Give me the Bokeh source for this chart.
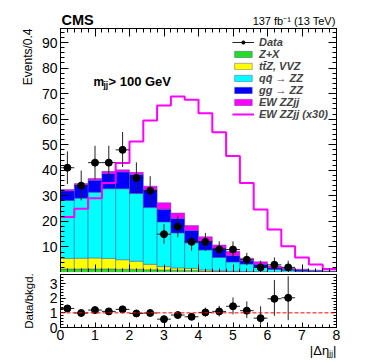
import numpy as np
from bokeh.plotting import figure
from bokeh.models import (ColumnDataSource, Range1d, LinearAxis, FixedTicker,
                          Label, Legend, LegendItem, Span, Title)
from bokeh.layouts import column
from bokeh.embed import file_html
from bokeh.resources import INLINE

FONT = "Liberation Sans"

# ---------------- data ----------------
bin_edges = [0.0, 0.4, 0.8, 1.2, 1.6, 2.0, 2.4, 2.8, 3.2, 3.6, 4.0,
             4.4, 4.8, 5.2, 5.6, 6.0, 6.4, 6.8, 7.2, 7.6, 8.0]
bin_centers = [0.2, 0.6, 1.0, 1.4, 1.8, 2.2, 2.6, 3.0, 3.4, 3.8,
               4.2, 4.6, 5.0, 5.4, 5.8, 6.2, 6.6, 7.0, 7.4, 7.8]
bin_width = 0.4

zx_bkg = [1.4, 1.4, 1.4, 1.4, 1.3, 1.3, 1.1, 1.0, 0.9, 0.8,
          0.5, 0.4, 0.3, 0.2, 0.15, 0.1, 0.1, 0.05, 0.05, 0.03]
ttz_vvz = [4.1, 4.2, 4.3, 4.1, 3.7, 3.1, 2.1, 1.3, 0.9, 0.8,
           0.5, 0.3, 0.2, 0.2, 0.15, 0.1, 0.05, 0.05, 0.02, 0.02]
qq_zz = [22.7, 23.5, 25.7, 27.3, 27.8, 26.5, 22.2, 17.5, 13.7, 10.0,
         7.8, 5.2, 3.6, 2.9, 1.7, 1.0, 0.65, 0.4, 0.3, 0.2]
gg_zz = [3.7, 5.0, 4.7, 5.9, 6.5, 7.4, 7.0, 5.0, 5.6, 4.8,
         3.5, 3.7, 2.5, 1.3, 1.2, 0.6, 0.5, 0.5, 0.35, 0.2]
ew_zzjj = [0.6, 0.7, 0.7, 0.9, 0.9, 0.9, 1.4, 2.5, 2.2, 2.0,
           1.7, 1.2, 1.7, 1.0, 1.0, 0.7, 0.4, 0.3, 0.2, 0.15]
ew_zzjj_x30 = [21.7, 25.0, 29.1, 35.0, 42.9, 51.3, 59.5, 65.4, 68.9, 67.6,
               62.3, 54.9, 45.6, 35.0, 24.7, 16.8, 10.3, 5.9, 3.1, 1.4]

data_x = [0.2, 0.6, 1.0, 1.4, 1.8, 2.2, 2.6, 3.0, 3.4, 3.8,
          4.2, 4.6, 5.0, 5.4, 5.8, 6.2, 6.6]
data_y = [41, 34, 43, 43, 48, 37, 32, 15, 18, 12, 12, 9, 9, 5, 2, 3, 2]
data_lo = [34.6, 28.2, 36.5, 36.5, 41.3, 31.0, 26.4, 11.3, 13.8, 8.5,
           8.5, 6.0, 6.0, 2.8, 0.7, 1.4, 0.7]
data_hi = [47.4, 39.9, 49.6, 49.6, 55.0, 43.1, 37.7, 19.0, 22.3, 15.5,
           15.5, 12.2, 12.2, 7.7, 4.6, 5.9, 4.6]

ratio_y = [1.30, 0.99, 1.19, 1.10, 1.24, 0.96, 0.99, 0.57, 0.85, 0.73,
           1.03, 1.10, 1.45, 1.15, 0.64, 1.96, 2.03]
ratio_lo = [1.10, 0.82, 1.00, 0.93, 1.06, 0.80, 0.82, 0.42, 0.65, 0.52,
            0.73, 0.75, 0.90, 0.65, 0.22, 0.80, 0.50]
ratio_hi = [1.50, 1.18, 1.38, 1.28, 1.44, 1.13, 1.18, 0.74, 1.05, 0.96,
            1.36, 1.48, 2.05, 1.78, 1.45, 3.25, 3.50]
ratio_ref = 1.0

legend_labels = ["Data", "Z+X", "tt\u0304Z, VVZ", "qq\u0304 \u2192 ZZ",
                 "gg \u2192 ZZ", "EW ZZjj", "EW ZZjj (x30)"]
stack_colors = ["#22dd22", "#ffff00", "#00ffff", "#0000ff", "#ff00ff"]

x_major = [0, 1, 2, 3, 4, 5, 6, 7, 8]
y_major_main = [10, 20, 30, 40, 50, 60, 70, 80, 90]
y_major_ratio = [0, 1, 2, 3]

# ---------------- geometry ----------------
FW, FH1, FH2 = 276, 244, 53
BL, BR = 60, 38
HEAD = 28


def style_axis(ax, ticks, minor, labels, tin, tmin):
    ax.ticker = FixedTicker(ticks=ticks, minor_ticks=minor)
    ax.major_tick_in = tin
    ax.major_tick_out = 0
    ax.minor_tick_in = tmin
    ax.minor_tick_out = 0
    ax.axis_line_color = "black"
    ax.major_tick_line_color = "black"
    ax.minor_tick_line_color = "black"
    ax.major_label_text_font = FONT
    if labels:
        ax.major_label_text_font_size = "14px"
        ax.major_label_standoff = 3
        ax.major_label_text_color = "black"
    else:
        ax.major_label_text_font_size = "0px"
        ax.major_label_standoff = 0
        ax.major_label_text_color = None


def add_label(p, x, y, text, size, style="normal", align="left",
              baseline="alphabetic", angle=0.0):
    p.add_layout(Label(x=x, y=y, x_units="screen", y_units="screen", text=text,
                       text_font=FONT, text_font_size=size, text_font_style=style,
                       text_align=align, text_baseline=baseline, angle=angle,
                       text_color="black"))


def side_title(p, text, place, align, size, standoff, valign="bottom"):
    p.add_layout(Title(text=text, align=align, text_font=FONT,
                       text_font_size=size, text_font_style="normal",
                       text_color="black", standoff=standoff, offset=0,
                       vertical_align=valign), place)


x_minor = list(np.round(np.arange(0, 8.01, 0.2), 2))

# ---------------- header ----------------
head = figure(frame_width=FW, frame_height=HEAD, x_range=Range1d(0, FW),
              y_range=Range1d(0, HEAD), output_backend="svg",
              toolbar_location=None, title=None,
              min_border=0, min_border_left=BL, min_border_right=BR,
              min_border_top=0, min_border_bottom=0,
              x_axis_location=None, y_axis_location=None)
head.grid.visible = False
head.outline_line_color = None
add_label(head, 1, 1, "CMS", "14.5px", style="bold", baseline="bottom")
add_label(head, FW - 1, 2, "137 fb\u207b\u00b9 (13 TeV)", "11px", align="right",
          baseline="bottom")

# ---------------- main panel ----------------
p = figure(frame_width=FW, frame_height=FH1, x_range=Range1d(0, 8),
           y_range=Range1d(0, 95.5), output_backend="svg", toolbar_location=None,
           title=None, min_border_left=BL, min_border_right=BR, min_border_top=0,
           min_border_bottom=0)
p.grid.visible = False
p.outline_line_color = "black"

style_axis(p.xaxis[0], x_major, x_minor, False, 8, 4)
style_axis(p.yaxis[0], y_major_main, list(range(0, 96, 2)), True, 8, 4)
side_title(p, "Events/0.4", "left", "right", "12px", 8)
ax_r = LinearAxis()
style_axis(ax_r, y_major_main, list(range(0, 96, 2)), False, 8, 4)
p.add_layout(ax_r, "right")
ax_t = LinearAxis()
style_axis(ax_t, x_major, x_minor, False, 8, 4)
p.add_layout(ax_t, "above")

src = ColumnDataSource(dict(x=bin_centers, zx=zx_bkg, ttz=ttz_vvz, qq=qq_zz,
                            gg=gg_zz, ew=ew_zzjj))
stack_rs = p.vbar_stack(["zx", "ttz", "qq", "gg", "ew"], x="x", width=bin_width,
                        source=src, fill_color=stack_colors,
                        line_color="#5050a0", line_width=0.6, line_alpha=0.8)

step_y = ew_zzjj_x30 + [ew_zzjj_x30[-1]]
r_step = p.step(x=bin_edges, y=step_y, mode="after", line_color="#ff00ff",
                line_width=2)

dx = np.array(data_x)
dsrc = ColumnDataSource(dict(x=dx, y=data_y, lo=data_lo, hi=data_hi,
                             x0=dx - bin_width / 2, x1=dx + bin_width / 2))
p.segment(x0="x", y0="lo", x1="x", y1="hi", source=dsrc, line_color="#222222",
          line_width=1)
r_hseg = p.segment(x0="x0", y0="y", x1="x1", y1="y", source=dsrc,
                   line_color="#222222", line_width=1)
r_pts = p.scatter(x="x", y="y", source=dsrc, size=7, fill_color="black",
                  line_color="black")

items = [LegendItem(label=legend_labels[0], renderers=[r_hseg, r_pts])]
for lab, r in zip(legend_labels[1:6], stack_rs):
    items.append(LegendItem(label=lab, renderers=[r]))
items.append(LegendItem(label=legend_labels[6], renderers=[r_step]))
leg = Legend(items=items, location="top_right", margin=8, padding=0, spacing=-2,
             glyph_width=22, glyph_height=8, label_standoff=5,
             label_text_font=FONT, label_text_font_size="11px",
             label_text_font_style="bold italic", border_line_color=None,
             background_fill_alpha=0.0, label_height=10)
p.add_layout(leg)

add_label(p, 33, 191, "m", "12px", style="bold")
add_label(p, 43, 188, "jj", "8.5px", style="bold")
add_label(p, 48, 191, "> 100 GeV", "13px", style="bold")

# ---------------- ratio panel ----------------
p2 = figure(frame_width=FW, frame_height=FH2, x_range=p.x_range,
            y_range=Range1d(0, 3.62), output_backend="svg", toolbar_location=None,
            title=None, min_border_left=BL, min_border_right=BR, min_border_top=2,
            min_border_bottom=36)
p2.grid.visible = False
p2.outline_line_color = "black"

style_axis(p2.xaxis[0], x_major, x_minor, True, 5, 3)
p2.xaxis[0].major_label_standoff = 2
side_title(p2, "|\u0394\u03b7\u2c7c\u2c7c|", "below", "right", "13px", -4)
ratio_minor = list(np.round(np.arange(0, 3.61, 0.2), 2))
style_axis(p2.yaxis[0], y_major_ratio, ratio_minor, True, 5, 3)
side_title(p2, "Data/bkgd.", "left", "center", "11.5px", 24)
ax_r2 = LinearAxis()
style_axis(ax_r2, y_major_ratio, ratio_minor, False, 5, 3)
p2.add_layout(ax_r2, "right")

p2.add_layout(Span(location=ratio_ref, dimension="width", line_color="red",
                   line_dash="4 2", line_width=1))

rsrc = ColumnDataSource(dict(x=dx, y=ratio_y, lo=ratio_lo, hi=ratio_hi,
                             x0=dx - bin_width / 2, x1=dx + bin_width / 2))
p2.segment(x0="x", y0="lo", x1="x", y1="hi", source=rsrc, line_color="#222222",
           line_width=1)
p2.segment(x0="x0", y0="y", x1="x1", y1="y", source=rsrc, line_color="#222222",
           line_width=1)
p2.scatter(x="x", y="y", source=rsrc, size=7, fill_color="black",
           line_color="black")

layout = column(head, p, p2, spacing=0)
open("out.html", "w").write(file_html(layout, INLINE))
